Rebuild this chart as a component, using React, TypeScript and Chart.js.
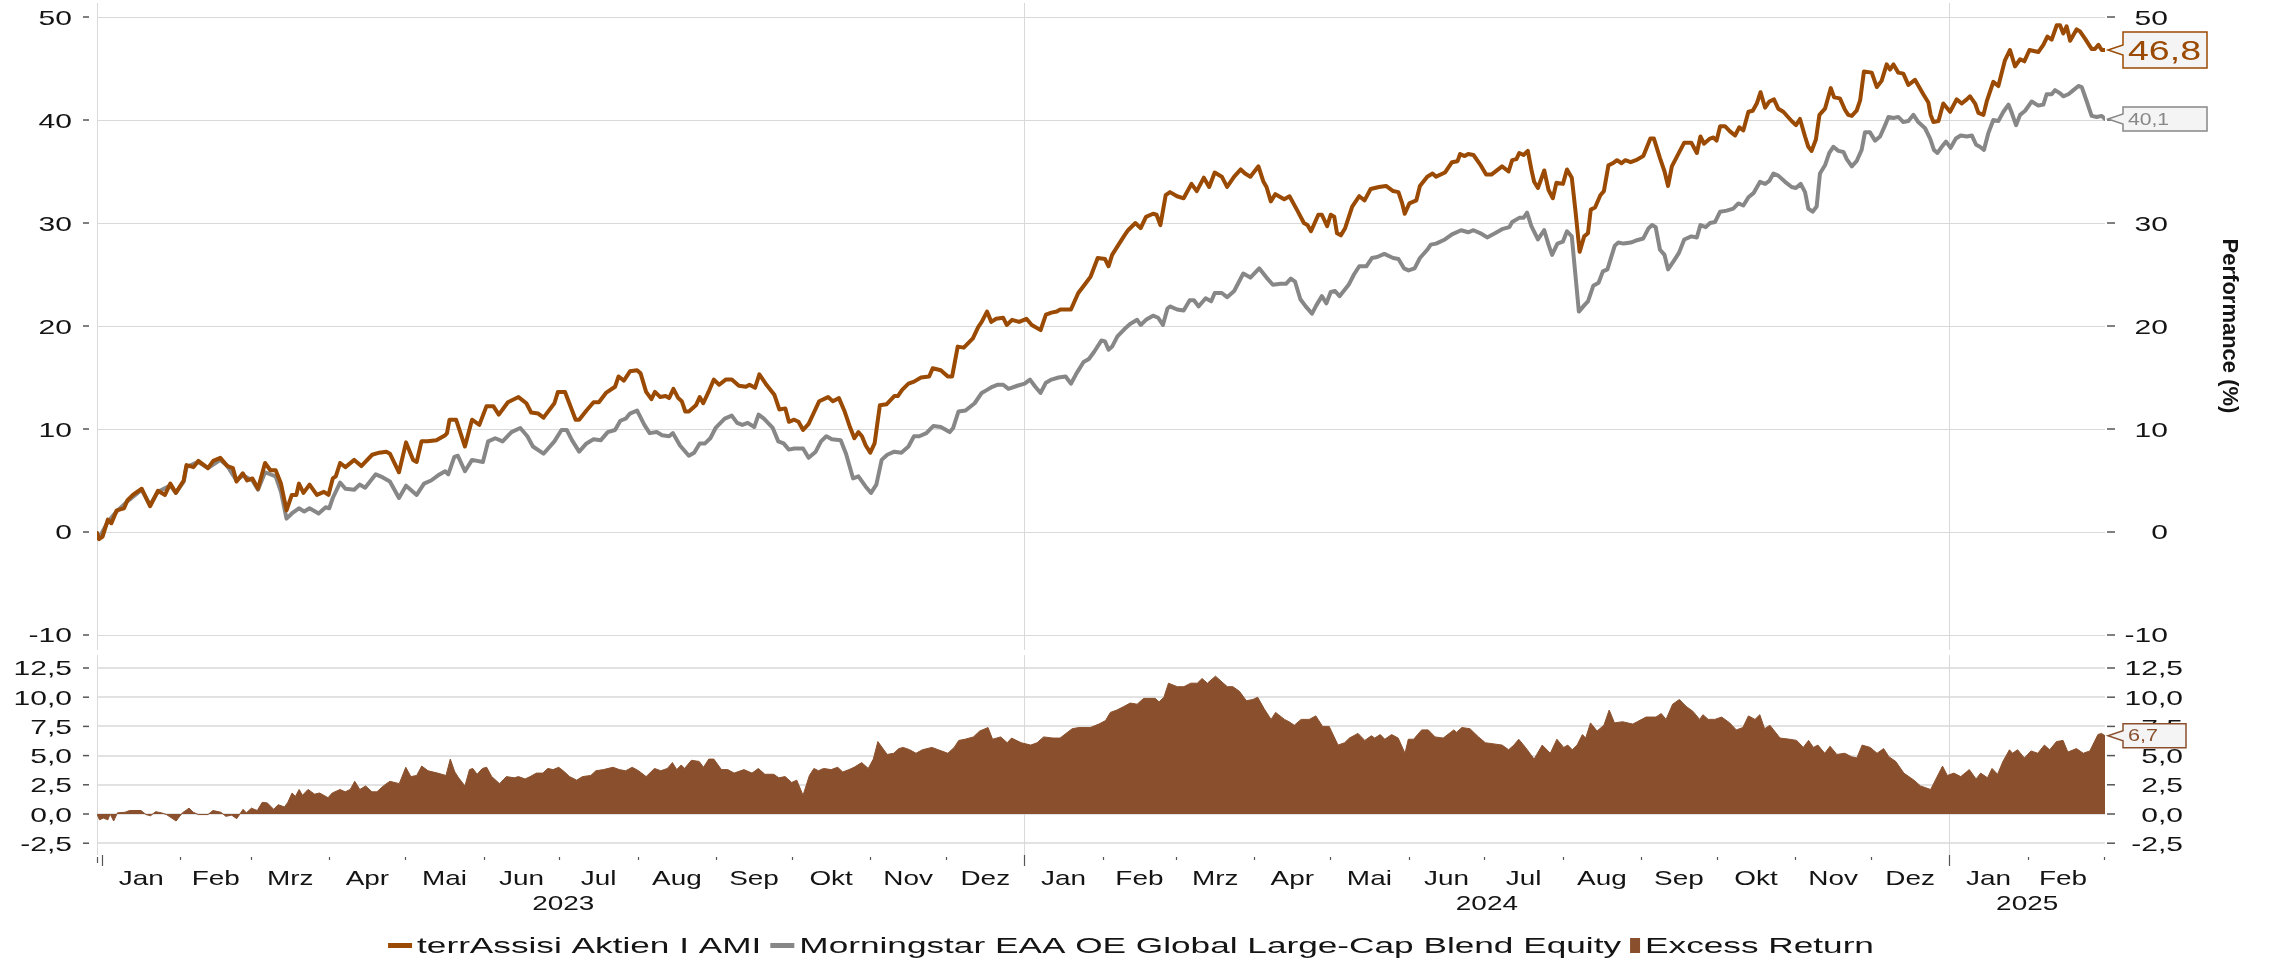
import React, { useEffect, useRef } from 'react';
import { Chart, registerables } from 'chart.js';

Chart.register(...registerables);

// Day 0 = 2022-12-30 (first day shown on the axis)
const START_DATE = '2022-12-30';
const END_DAY = 794.6;

// terrAssisi Aktien I AMI – cumulative performance (%), [day, value]
const fundSeries: number[][] = [
  [0, -0.1], [0.8, -0.7], [2.2, -0.45], [4.3, 1.2], [5.7, 0.85], [7.8, 2.1], [10.7, 2.3], [12.1, 3.1], [14.2, 3.6],
  [17.7, 4.2], [21.0, 2.5], [24.1, 4.0], [26.9, 3.6], [29.0, 4.7], [31.2, 3.8], [34.3, 5.0], [35.4, 6.5], [38.2, 6.3],
  [40.1, 6.9], [43.9, 6.2], [46.0, 6.9], [48.8, 7.2], [51.6, 6.4], [53.8, 6.2], [55.2, 4.9], [57.7, 5.7], [59.4, 5.0],
  [61.5, 5.2], [63.7, 4.2], [66.5, 6.7], [68.6, 6.0], [70.7, 6.0], [72.8, 4.7], [75.0, 2.1], [77.1, 3.6], [78.9, 3.6],
  [79.9, 4.7], [81.7, 3.8], [84.1, 4.6], [87.0, 3.6], [89.8, 3.9], [91.6, 3.6], [93.3, 5.2], [94.5, 5.4], [96.2, 6.7],
  [98.3, 6.3], [101.8, 7.0], [104.6, 6.4], [108.9, 7.5], [111.7, 7.7], [114.5, 7.8], [115.9, 7.6], [119.5, 5.8],
  [122.3, 8.7], [125.1, 7.0], [126.5, 6.8], [128.4, 8.8], [130.8, 8.8], [134.3, 8.9], [137.8, 9.4], [138.5, 9.6],
  [139.5, 10.9], [142.1, 10.9], [145.6, 8.3], [148.4, 10.9], [151.3, 10.4], [154.1, 12.2], [156.9, 12.2], [159.0, 11.4],
  [162.6, 12.6], [166.8, 13.1], [169.9, 12.5], [171.8, 11.6], [174.6, 11.5], [176.7, 11.1], [181.0, 12.5], [182.4, 13.6],
  [185.2, 13.6], [189.4, 10.9], [190.8, 10.9], [193.7, 11.8], [196.5, 12.6], [198.6, 12.6], [201.4, 13.5], [205.0, 14.1],
  [206.4, 15.1], [208.5, 14.7], [210.9, 15.6], [213.7, 15.7], [215.1, 15.4], [217.3, 13.6], [219.4, 12.9], [220.8, 13.6],
  [222.9, 13.1], [225.0, 13.2], [226.4, 13.0], [228.1, 13.9], [230.0, 13.0], [231.4, 12.7], [232.8, 11.7], [234.2, 11.7],
  [237.0, 12.3], [238.5, 13.1], [239.9, 12.5], [242.0, 13.6], [244.1, 14.8], [246.2, 14.3], [248.8, 14.8], [251.2, 14.8],
  [254.0, 14.2], [256.8, 14.1], [258.2, 14.3], [260.4, 14.0], [262.1, 15.3], [264.6, 14.4], [268.1, 13.3], [270.0, 11.9],
  [272.4, 12.0], [273.8, 10.7], [275.9, 10.9], [277.6, 10.7], [279.4, 9.9], [281.6, 10.5], [283.7, 11.6], [285.8, 12.7],
  [289.3, 13.1], [291.2, 12.7], [293.6, 13.0], [295.7, 11.8], [297.8, 10.3], [299.7, 9.1], [301.3, 9.7], [302.7, 9.3],
  [304.2, 8.4], [306.0, 7.7], [307.7, 8.6], [309.8, 12.3], [312.4, 12.4], [315.5, 13.2], [316.9, 13.2], [318.6, 13.8],
  [321.1, 14.4], [323.3, 14.6], [326.1, 15.0], [329.3, 15.1], [330.7, 15.9], [333.9, 15.7], [336.7, 15.1], [338.4, 15.1],
  [340.6, 18.0], [343.0, 17.9], [346.6, 18.8], [348.7, 19.9], [350.1, 20.4], [352.2, 21.4], [353.9, 20.4], [355.8, 20.7],
  [358.6, 20.8], [360.0, 20.1], [362.1, 20.6], [364.9, 20.4], [367.8, 20.7], [369.9, 20.1], [373.4, 19.6], [375.5, 21.1],
  [377.7, 21.3], [379.8, 21.4], [381.2, 21.6], [385.4, 21.6], [388.3, 23.2], [391.1, 24.1], [393.2, 24.8], [396.0, 26.6],
  [398.9, 26.5], [400.3, 25.8], [401.7, 26.9], [404.5, 28.0], [406.6, 28.8], [408.0, 29.3], [410.9, 30.0], [413.0, 29.5],
  [415.1, 30.6], [417.9, 30.9], [419.3, 30.8], [420.8, 29.8], [422.9, 32.7], [424.6, 33.0], [427.4, 32.6], [430.0, 32.4],
  [433.1, 33.8], [435.2, 33.1], [438.0, 34.4], [440.1, 33.5], [442.3, 34.9], [445.1, 34.5], [447.2, 33.5], [450.0, 34.5],
  [452.6, 35.2], [454.3, 34.8], [456.4, 34.5], [459.6, 35.5], [461.6, 34.0], [462.8, 33.5], [464.5, 32.1], [466.3, 32.8],
  [469.8, 32.3], [471.9, 32.6], [474.8, 31.3], [477.6, 30.0], [479.0, 29.8], [480.4, 29.2], [483.3, 30.8], [484.7, 30.8],
  [486.8, 29.7], [488.2, 30.8], [489.6, 30.6], [490.7, 29.0], [492.2, 28.8], [493.9, 29.5], [496.7, 31.6], [499.5, 32.6],
  [501.6, 32.2], [504.0, 33.3], [507.3, 33.5], [510.1, 33.6], [512.9, 33.1], [515.0, 33.0], [516.5, 31.9], [517.5, 30.9],
  [519.3, 31.9], [522.1, 32.2], [523.5, 33.6], [526.4, 34.5], [528.5, 34.8], [529.9, 34.5], [533.4, 34.9], [536.2, 35.9],
  [538.4, 36.0], [539.4, 36.7], [541.2, 36.5], [542.6, 36.7], [544.7, 36.6], [547.3, 35.7], [549.7, 34.7], [551.8, 34.7],
  [556.0, 35.5], [558.6, 35.0], [560.0, 36.1], [561.7, 36.2], [562.8, 36.8], [564.5, 36.6], [566.2, 37.0], [567.6, 35.2],
  [568.7, 34.0], [570.2, 33.4], [572.7, 35.1], [574.4, 33.2], [576.1, 32.4], [577.5, 33.9], [580.1, 33.8], [581.7, 35.2],
  [583.6, 34.4], [585.0, 31.3], [586.7, 27.2], [588.5, 28.7], [590.0, 29.0], [591.1, 31.3], [592.8, 31.5], [594.9, 32.7],
  [596.3, 33.1], [598.1, 35.6], [599.8, 35.8], [601.5, 36.1], [603.3, 35.8], [604.8, 36.1], [606.9, 35.9], [609.0, 36.1],
  [611.9, 36.5], [614.7, 38.2], [616.1, 38.2], [618.5, 36.3], [620.3, 35.0], [621.7, 33.6], [623.2, 35.5], [625.3, 36.5],
  [628.1, 37.8], [630.9, 37.8], [633.1, 36.8], [634.5, 38.4], [635.9, 37.7], [638.3, 38.2], [639.6, 38.3], [640.9, 38.0],
  [642.3, 39.4], [644.2, 39.4], [646.2, 38.9], [648.2, 38.5], [649.9, 39.3], [651.5, 39.0], [653.5, 40.8], [655.2, 40.9],
  [656.8, 41.6], [658.3, 42.7], [660.1, 41.2], [661.8, 41.8], [663.6, 42.0], [665.3, 41.1], [667.3, 40.8], [670.6, 39.9],
  [672.3, 39.5], [673.9, 40.1], [675.9, 38.4], [677.2, 37.4], [678.5, 37.0], [680.2, 38.1], [681.6, 40.5], [683.8, 41.1],
  [686.1, 43.1], [687.4, 42.2], [689.7, 42.1], [691.7, 41.0], [693.0, 40.5], [694.4, 40.4], [696.3, 40.9], [697.7, 41.9],
  [699.2, 44.7], [702.3, 44.6], [704.3, 43.2], [706.2, 43.8], [708.2, 45.4], [709.5, 44.9], [710.9, 45.4], [712.8, 44.6],
  [714.8, 44.5], [716.8, 43.4], [719.4, 43.9], [722.7, 42.5], [724.7, 41.7], [725.6, 40.5], [726.7, 39.8], [728.7, 39.9],
  [730.6, 41.6], [733.3, 40.8], [735.9, 42.0], [737.9, 41.6], [739.9, 42.0], [741.2, 42.3], [743.2, 41.6], [744.5, 40.7],
  [746.5, 40.5], [747.8, 41.8], [750.4, 43.7], [752.4, 43.3], [755.0, 45.8], [757.0, 46.8], [759.0, 45.2], [761.0, 45.9],
  [762.7, 45.7], [764.7, 46.8], [768.2, 46.6], [770.2, 47.3], [771.8, 48.1], [773.5, 47.8], [775.5, 49.2], [776.8, 49.2],
  [778.1, 48.4], [779.4, 49.1], [780.8, 47.7], [783.4, 48.8], [784.7, 48.6], [786.7, 47.9], [789.3, 46.9], [790.6, 46.9],
  [792.0, 47.3], [793.3, 46.8], [794.6, 46.8],
];

// Morningstar EAA OE Global Large-Cap Blend Equity – cumulative performance (%), [day, value]
const benchSeries: number[][] = [
  [0, -0.1], [0.8, -0.6], [4.3, 1.0], [7.8, 2.0], [12.1, 3.0], [17.7, 4.1], [21.0, 2.6], [24.1, 3.9], [29.0, 4.5],
  [31.2, 3.8], [34.3, 4.9], [35.4, 6.3], [40.1, 6.8], [43.9, 6.2], [48.8, 7.0], [51.6, 6.4], [55.2, 5.0], [57.7, 5.5],
  [61.5, 5.0], [63.7, 4.1], [66.5, 5.8], [70.7, 5.4], [72.8, 3.9], [75.0, 1.3], [77.1, 1.8], [79.9, 2.3], [82.0, 2.0],
  [84.1, 2.3], [87.7, 1.8], [90.5, 2.4], [91.9, 2.3], [93.3, 3.3], [96.2, 4.8], [98.3, 4.2], [101.8, 4.1], [103.9, 4.6],
  [106.1, 4.3], [110.3, 5.6], [113.1, 5.3], [115.9, 4.9], [119.5, 3.3], [122.3, 4.5], [126.5, 3.6], [129.4, 4.7],
  [132.2, 5.0], [135.0, 5.5], [137.8, 5.9], [139.0, 5.6], [141.4, 7.3], [142.8, 7.4], [145.6, 5.9], [148.4, 7.0],
  [152.7, 6.8], [154.8, 8.8], [157.6, 9.1], [160.5, 8.8], [164.0, 9.7], [167.5, 10.1], [170.3, 9.3], [172.5, 8.3],
  [176.7, 7.6], [181.0, 8.8], [183.8, 9.9], [185.9, 9.9], [188.0, 8.9], [190.8, 7.8], [193.7, 8.6], [196.5, 9.0],
  [199.3, 8.9], [202.1, 9.7], [205.0, 9.9], [207.1, 10.8], [209.2, 11.0], [210.9, 11.5], [213.7, 11.8], [216.6, 10.4],
  [218.7, 9.6], [221.5, 9.7], [223.6, 9.4], [226.4, 9.3], [227.9, 9.6], [230.7, 8.4], [234.2, 7.4], [236.3, 7.7],
  [238.5, 8.6], [240.6, 8.6], [242.7, 9.1], [244.8, 10.1], [248.4, 11.0], [251.2, 11.3], [253.3, 10.6], [255.4, 10.4],
  [257.5, 10.6], [260.1, 10.2], [261.8, 11.4], [263.9, 11.0], [267.4, 10.1], [269.6, 8.8], [271.7, 8.6], [273.8, 8.0],
  [275.9, 8.1], [279.4, 8.1], [281.6, 7.2], [284.4, 7.8], [286.5, 8.8], [288.6, 9.3], [290.8, 9.0], [294.3, 8.9],
  [296.4, 7.6], [299.2, 5.2], [301.3, 5.4], [304.2, 4.4], [306.3, 3.8], [308.4, 4.6], [310.5, 7.0], [312.7, 7.5],
  [315.5, 7.8], [318.3, 7.7], [321.1, 8.3], [323.3, 9.3], [325.4, 9.3], [328.2, 9.6], [331.0, 10.3], [333.9, 10.2],
  [337.4, 9.7], [338.8, 10.1], [340.9, 11.7], [343.7, 11.8], [347.3, 12.5], [350.1, 13.5], [352.2, 13.8], [354.3, 14.1],
  [356.5, 14.3], [358.6, 14.3], [360.7, 13.9], [364.2, 14.2], [367.1, 14.4], [369.2, 14.8], [371.3, 14.1], [373.4, 13.5],
  [375.5, 14.5], [377.7, 14.8], [380.5, 15.0], [383.3, 15.1], [385.4, 14.4], [387.6, 15.4], [390.4, 16.5], [392.5, 16.8],
  [394.6, 17.5], [397.5, 18.6], [398.9, 18.5], [400.3, 17.7], [401.7, 18.0], [403.8, 19.0], [406.6, 19.7], [408.8, 20.2],
  [411.6, 20.6], [413.0, 20.1], [415.1, 20.6], [417.9, 21.0], [419.9, 20.8], [421.8, 20.1], [423.6, 21.7], [424.6, 21.9],
  [427.4, 21.6], [430.0, 21.5], [432.4, 22.5], [434.1, 22.5], [435.9, 21.9], [438.7, 22.7], [440.9, 22.4], [442.3, 23.2],
  [445.1, 23.2], [447.2, 22.8], [450.0, 23.4], [453.6, 25.1], [456.4, 24.7], [459.9, 25.6], [462.8, 24.7], [465.3, 24.0],
  [468.4, 24.1], [470.5, 24.1], [472.4, 24.6], [474.1, 24.3], [476.2, 22.6], [478.3, 21.9], [480.8, 21.2], [482.5, 22.0],
  [484.7, 22.9], [486.5, 22.2], [488.2, 23.3], [489.9, 23.4], [491.7, 22.9], [495.3, 24.0], [497.4, 25.0], [499.5, 25.8],
  [502.3, 25.8], [504.5, 26.6], [506.6, 26.7], [509.4, 27.0], [512.9, 26.6], [515.0, 26.5], [517.2, 25.6], [519.0, 25.4],
  [521.4, 25.6], [523.5, 26.6], [526.4, 27.4], [527.8, 27.9], [529.9, 28.0], [533.4, 28.4], [536.2, 28.9], [539.8, 29.3],
  [542.6, 29.1], [544.7, 29.3], [547.5, 29.0], [550.1, 28.6], [553.2, 29.0], [556.0, 29.4], [558.9, 29.6], [560.0, 30.1],
  [562.8, 30.5], [564.5, 30.5], [565.9, 31.0], [567.6, 29.7], [570.2, 28.4], [572.7, 29.3], [574.4, 27.9], [575.8, 26.9],
  [577.9, 28.0], [580.1, 28.2], [581.7, 29.2], [583.6, 28.7], [586.4, 21.4], [588.5, 22.0], [590.0, 22.4], [592.1, 23.9],
  [594.2, 24.2], [595.9, 25.3], [597.7, 25.5], [600.6, 27.8], [602.0, 28.1], [604.1, 28.0], [606.9, 28.1], [609.0, 28.3],
  [611.9, 28.5], [614.0, 29.5], [615.4, 29.8], [616.8, 29.6], [618.5, 27.4], [620.3, 26.9], [621.7, 25.5], [623.9, 26.3],
  [626.0, 27.1], [628.1, 28.4], [630.9, 28.7], [633.1, 28.6], [634.5, 29.8], [636.6, 29.6], [638.3, 30.0], [640.3, 30.1],
  [642.3, 31.1], [644.9, 31.2], [647.5, 31.4], [649.5, 31.9], [651.5, 31.7], [653.5, 32.5], [655.5, 32.9], [658.1, 34.0],
  [660.1, 33.8], [661.8, 34.1], [663.4, 34.8], [665.3, 34.6], [668.0, 34.0], [670.6, 33.5], [672.3, 33.4], [674.2, 33.8],
  [675.9, 33.0], [677.2, 31.4], [678.9, 31.1], [680.5, 31.6], [681.8, 34.8], [683.8, 35.6], [685.5, 36.8], [687.1, 37.4],
  [689.1, 37.0], [691.1, 36.9], [692.4, 36.2], [694.4, 35.5], [696.3, 36.0], [698.3, 37.1], [699.6, 38.8], [701.6, 38.8],
  [703.6, 38.0], [705.6, 38.4], [707.6, 39.5], [708.9, 40.3], [710.9, 40.2], [712.8, 40.3], [714.8, 39.8], [716.8, 39.9],
  [718.8, 40.5], [720.7, 39.8], [723.4, 39.2], [725.4, 38.2], [726.9, 37.1], [728.3, 36.8], [730.0, 37.4], [731.7, 37.9],
  [733.5, 37.3], [735.6, 38.2], [737.5, 38.5], [739.9, 38.4], [741.9, 38.5], [743.6, 37.6], [745.1, 37.4], [746.7, 37.1],
  [748.4, 38.7], [750.4, 40.0], [752.4, 39.9], [754.4, 40.8], [756.4, 41.5], [757.7, 40.7], [759.4, 39.5], [761.0, 40.5],
  [763.0, 40.9], [765.6, 41.8], [768.2, 41.4], [770.2, 41.5], [771.5, 42.5], [773.5, 42.5], [774.8, 42.9], [776.8, 42.6],
  [778.1, 42.3], [780.1, 42.5], [782.1, 42.9], [784.1, 43.3], [785.4, 43.2], [787.4, 41.8], [789.3, 40.4], [791.3, 40.3],
  [793.3, 40.4], [794.6, 40.1],
];

// Excess Return (%), [day, value]
const excessSeries: number[][] = [
  [0, 0], [1.0, -0.5], [2.5, -0.35], [4.3, -0.5], [5.2, 0.0], [6.6, -0.6], [8.1, 0.1], [11.1, 0.15], [12.9, 0.3],
  [17.4, 0.3], [19.4, -0.05], [21.2, -0.15], [23.2, 0.2], [25.5, 0.1], [27.5, -0.05], [31.3, -0.6], [33.8, 0.1],
  [36.4, 0.5], [38.1, 0.15], [40.1, -0.05], [43.9, -0.05], [45.9, 0.3], [49.0, 0.15], [51.0, -0.2], [53.3, -0.1],
  [55.3, -0.4], [57.8, 0.4], [59.1, 0.1], [61.1, 0.5], [63.4, 0.3], [65.4, 1.0], [67.4, 0.95], [69.9, 0.4], [71.7, 0.8],
  [74.2, 0.6], [75.5, 1.0], [77.2, 1.8], [78.5, 1.5], [80.0, 2.1], [81.3, 1.6], [83.5, 2.1], [86.1, 1.7], [88.1, 1.8],
  [91.4, 1.4], [93.1, 1.8], [96.2, 2.1], [98.2, 1.9], [100.2, 2.1], [102.0, 2.8], [104.0, 2.1], [106.3, 2.4], [108.8, 1.9],
  [110.8, 1.9], [113.3, 2.4], [115.9, 2.8], [119.6, 2.6], [122.2, 4.0], [124.2, 3.2], [126.5, 3.3], [128.5, 4.1],
  [131.0, 3.7], [134.8, 3.5], [138.1, 3.3], [139.8, 4.7], [141.6, 3.6], [143.1, 3.1], [145.6, 2.4], [147.4, 3.8],
  [148.7, 3.9], [150.4, 3.4], [152.5, 3.9], [154.2, 4.0], [156.2, 3.2], [159.3, 2.6], [162.0, 3.2], [165.1, 3.1],
  [166.8, 3.2], [169.4, 3.0], [171.4, 3.2], [173.9, 3.5], [176.4, 3.5], [178.4, 3.9], [180.5, 3.8], [182.7, 4.0],
  [184.5, 3.7], [187.0, 3.2], [189.8, 2.9], [192.1, 3.2], [195.4, 3.3], [197.4, 3.7], [200.4, 3.8], [204.2, 4.0],
  [206.7, 3.8], [209.2, 3.7], [211.8, 4.0], [214.3, 3.7], [217.3, 3.2], [220.6, 3.9], [223.1, 3.7], [225.7, 3.9],
  [227.7, 4.4], [229.4, 3.8], [231.2, 4.2], [232.5, 3.9], [235.2, 4.6], [238.3, 4.5], [240.0, 4.0], [242.1, 4.7],
  [244.1, 4.7], [247.1, 3.8], [249.6, 3.8], [252.1, 3.5], [256.0, 3.8], [259.2, 3.5], [261.7, 3.9], [264.3, 3.4],
  [267.8, 3.4], [269.8, 3.1], [272.3, 3.2], [274.9, 2.7], [276.9, 2.9], [279.4, 1.6], [281.9, 3.3], [283.7, 3.9],
  [285.5, 3.7], [287.5, 3.9], [290.5, 3.8], [293.1, 4.0], [295.1, 3.6], [297.6, 3.8], [299.6, 4.0], [302.6, 4.4],
  [305.2, 3.9], [307.2, 4.7], [309.0, 6.2], [312.7, 5.1], [315.3, 5.2], [317.3, 5.6], [319.0, 5.7], [321.6, 5.5],
  [324.1, 5.2], [326.6, 5.5], [330.4, 5.7], [332.9, 5.5], [336.7, 5.2], [339.2, 5.7], [341.0, 6.3], [343.5, 6.4],
  [346.8, 6.6], [349.3, 7.1], [352.6, 7.4], [354.4, 6.4], [357.6, 6.6], [360.2, 6.1], [361.9, 6.5], [365.7, 6.1],
  [369.5, 5.9], [372.0, 6.1], [374.6, 6.6], [378.3, 6.5], [381.1, 6.5], [385.9, 7.3], [388.5, 7.4], [393.0, 7.4],
  [396.5, 7.7], [399.1, 8.0], [401.0, 8.7], [403.6, 8.9], [406.3, 9.2], [408.9, 9.5], [411.6, 9.4], [414.2, 9.9],
  [418.7, 9.9], [420.3, 9.6], [422.2, 10.0], [424.0, 11.2], [427.5, 10.9], [430.1, 10.9], [432.8, 11.2], [435.4, 11.2],
  [437.3, 11.6], [439.4, 11.2], [442.6, 11.8], [445.2, 11.3], [447.3, 10.9], [449.5, 10.9], [452.1, 10.5], [454.8, 9.7],
  [457.4, 9.8], [459.3, 10.0], [461.9, 9.0], [464.6, 8.1], [466.4, 8.7], [469.9, 8.1], [471.7, 7.9], [473.8, 7.6],
  [476.5, 8.1], [479.7, 8.1], [482.3, 8.4], [485.0, 7.5], [487.6, 7.5], [491.1, 5.9], [493.7, 6.1], [495.6, 6.5],
  [499.0, 6.9], [501.7, 6.3], [504.3, 6.7], [505.6, 6.5], [507.8, 6.8], [509.6, 6.4], [512.3, 6.8], [514.9, 6.5],
  [517.6, 5.2], [518.9, 6.4], [521.0, 6.4], [524.2, 7.2], [526.8, 7.2], [529.5, 6.6], [532.7, 6.5], [536.9, 7.2],
  [538.0, 7.0], [540.1, 7.4], [543.3, 7.3], [546.7, 6.6], [549.4, 6.1], [552.8, 6.0], [556.0, 5.9], [558.6, 5.5],
  [560.7, 5.9], [562.6, 6.4], [565.3, 5.7], [568.7, 4.7], [571.9, 5.9], [575.1, 5.2], [577.7, 6.4], [580.4, 5.7],
  [582.0, 5.9], [583.8, 5.5], [585.7, 5.9], [587.8, 6.8], [589.1, 6.5], [591.0, 7.8], [593.6, 7.1], [596.3, 7.6],
  [598.4, 8.9], [600.5, 7.8], [603.7, 7.9], [607.7, 7.7], [609.5, 7.9], [613.0, 8.3], [616.9, 8.3], [619.0, 8.6],
  [620.9, 8.1], [623.5, 9.4], [626.2, 9.8], [628.9, 9.2], [631.5, 8.8], [634.2, 8.1], [635.5, 8.5], [637.6, 8.1],
  [640.2, 8.1], [642.9, 8.3], [646.1, 7.8], [648.7, 7.2], [651.3, 7.4], [653.5, 8.4], [656.1, 8.1], [658.0, 8.5],
  [659.9, 7.3], [662.0, 7.6], [666.0, 6.5], [669.9, 6.4], [672.6, 6.3], [675.2, 5.7], [677.3, 6.3], [679.2, 5.7],
  [681.0, 5.9], [683.7, 5.2], [685.8, 5.8], [688.5, 5.1], [691.6, 5.2], [694.3, 4.9], [696.4, 4.8], [698.5, 5.9],
  [701.7, 5.7], [704.4, 5.2], [707.0, 5.6], [709.1, 4.9], [711.8, 4.5], [715.0, 3.5], [719.0, 2.9], [721.6, 2.4],
  [725.6, 2.1], [730.3, 4.1], [732.2, 3.3], [734.8, 3.5], [737.5, 3.2], [740.9, 3.8], [743.6, 3.0], [745.4, 3.5],
  [748.1, 3.1], [749.9, 3.9], [752.1, 3.4], [754.2, 4.5], [756.8, 5.5], [758.0, 5.2], [760.0, 5.5], [762.7, 4.8],
  [765.3, 5.4], [768.0, 5.2], [770.6, 5.9], [772.7, 5.5], [775.4, 6.2], [778.0, 6.3], [779.9, 5.3], [783.3, 5.6],
  [786.0, 5.2], [788.6, 5.4], [791.8, 6.8], [793.2, 6.9], [794.6, 6.7],
];

const perfTicks = [-10, 0, 10, 20, 30, 40, 50];
const excessTicks = [-2.5, 0, 2.5, 5, 7.5, 10, 12.5];
const monthNames = ['Jan', 'Feb', 'Mrz', 'Apr', 'Mai', 'Jun', 'Jul', 'Aug', 'Sep', 'Okt', 'Nov', 'Dez'];
const years = [2023, 2024, 2025];
const seriesNames = ['terrAssisi Aktien I AMI', 'Morningstar EAA OE Global Large-Cap Blend Equity', 'Excess Return'];
const axisTitle = 'Performance (%)';

const ORANGE = '#9A4A02';
const GRAY = '#878787';
const BROWN = '#8A502D';
const GRID = '#d9d9d9';
const TEXT = '#141414';
const FONT = '"Liberation Sans", Arial, Helvetica, sans-serif';

const TOP_PANEL_FLOOR = -11.45;
const BOTTOM_PANEL_CEIL = 13.6;

function drawText(
  ctx: CanvasRenderingContext2D, s: string, x: number, y: number,
  size: number, sx: number, align: CanvasTextAlign, color: string, weight = '',
) {
  ctx.save();
  ctx.font = `${weight} ${size}px ${FONT}`;
  ctx.fillStyle = color;
  ctx.textAlign = align;
  ctx.textBaseline = 'alphabetic';
  ctx.translate(x, y);
  ctx.scale(sx, 1);
  ctx.fillText(s, 0, 0);
  ctx.restore();
}

function dayOf(y: number, m: number) {
  const start = new Date(START_DATE + 'T00:00:00Z').getTime();
  return (Date.UTC(y, m, 1) - start) / 86400000;
}

const fmt1 = (v: number) => v.toFixed(1).replace('.', ',');

const decorPlugin = {
  id: 'decor',
  beforeDatasetsDraw(chart: any) {
    const { ctx, chartArea: ca, scales } = chart;
    const xs = scales.x, yT = scales.yTop, yB = scales.yBot;
    const topBottom = yT.getPixelForValue(TOP_PANEL_FLOOR);
    const botTop = yB.getPixelForValue(BOTTOM_PANEL_CEIL);
    ctx.save();
    ctx.strokeStyle = GRID;
    ctx.lineWidth = 1;
    for (const v of perfTicks) {
      const y = Math.round(yT.getPixelForValue(v)) + 0.5;
      ctx.beginPath(); ctx.moveTo(ca.left, y); ctx.lineTo(ca.right, y); ctx.stroke();
    }
    ctx.lineWidth = 1.6;
    for (const v of excessTicks) {
      const y = Math.round(yB.getPixelForValue(v));
      ctx.beginPath(); ctx.moveTo(ca.left, y); ctx.lineTo(ca.right, y); ctx.stroke();
    }
    ctx.lineWidth = 1;
    const vlines = [0, dayOf(2024, 0), dayOf(2025, 0)];
    for (const d of vlines) {
      const x = Math.round(xs.getPixelForValue(d)) + 0.5;
      ctx.beginPath(); ctx.moveTo(x, ca.top); ctx.lineTo(x, topBottom); ctx.stroke();
      ctx.beginPath(); ctx.moveTo(x, botTop); ctx.lineTo(x, ca.bottom); ctx.stroke();
    }
    ctx.restore();
  },
  afterDatasetsDraw(chart: any) {
    const { ctx, chartArea: ca, scales } = chart;
    const xs = scales.x, yT = scales.yTop, yB = scales.yBot;
    ctx.save();

    // y tick marks + labels (both sides)
    ctx.strokeStyle = '#555';
    ctx.lineWidth = 1.5;
    const tickMark = (y: number) => {
      ctx.beginPath(); ctx.moveTo(ca.left - 14, y); ctx.lineTo(ca.left - 8, y); ctx.stroke();
      ctx.beginPath(); ctx.moveTo(ca.right + 2, y); ctx.lineTo(ca.right + 10, y); ctx.stroke();
    };
    for (const v of perfTicks) {
      const y = yT.getPixelForValue(v);
      tickMark(y);
      drawText(ctx, String(v), ca.left - 25, y + 7.5, 21, 1.43, 'right', TEXT);
      drawText(ctx, String(v), ca.right + 63, y + 7.5, 21, 1.43, 'right', TEXT);
    }
    for (const v of excessTicks) {
      const y = yB.getPixelForValue(v);
      tickMark(y);
      drawText(ctx, fmt1(v), ca.left - 25, y + 7.5, 21, 1.43, 'right', TEXT);
      drawText(ctx, fmt1(v), ca.right + 78, y + 7.5, 21, 1.43, 'right', TEXT);
    }

    // x axis: month ticks, month labels, year labels
    ctx.strokeStyle = '#555';
    const tickY = ca.bottom + 2;
    for (const y of [2022, ...years]) {
      for (let m = 0; m < 12; m++) {
        const d = dayOf(y, m);
        if (d <= 0 || d >= END_DAY - 4) continue;
        const x = Math.round(xs.getPixelForValue(d)) + 0.5;
        const long = m === 0;
        ctx.lineWidth = 1.2;
        ctx.beginPath(); ctx.moveTo(x, long ? ca.bottom : tickY); ctx.lineTo(x, long ? ca.bottom + 11 : tickY + 3); ctx.stroke();
        void x;
      }
    }
    // start/end ticks
    {
      const x0 = Math.round(xs.getPixelForValue(0)) + 0.5;
      ctx.beginPath(); ctx.moveTo(x0, tickY); ctx.lineTo(x0, tickY + 6); ctx.stroke();
      const x1 = Math.round(xs.getPixelForValue(END_DAY)) - 0.5;
      ctx.beginPath(); ctx.moveTo(x1, tickY); ctx.lineTo(x1, tickY + 3); ctx.stroke();
    }
    for (const y of years) {
      for (let m = 0; m < 12; m++) {
        const s = Math.max(0, dayOf(y, m));
        const e = Math.min(END_DAY, m === 11 ? dayOf(y + 1, 0) : dayOf(y, m + 1));
        if (e - s < 12) continue;
        const cx = (xs.getPixelForValue(s) + xs.getPixelForValue(e)) / 2;
        drawText(ctx, monthNames[m], cx, 885, 21, 1.33, 'center', TEXT);
      }
      const ys = Math.max(0, dayOf(y, 0));
      const ye = Math.min(END_DAY, dayOf(y + 1, 0));
      const cx = (xs.getPixelForValue(ys) + xs.getPixelForValue(ye)) / 2;
      drawText(ctx, String(y), cx, 910, 21, 1.33, 'center', TEXT);
    }

    // right axis title
    ctx.save();
    ctx.translate(2229, 326);
    ctx.rotate(Math.PI / 2);
    ctx.font = `bold 22px ${FONT}`;
    ctx.fillStyle = TEXT;
    ctx.textAlign = 'center';
    ctx.textBaseline = 'middle';
    ctx.fillText(axisTitle, 0, 0);
    ctx.restore();

    // legend
    const LS = 1.6;
    ctx.font = `22px ${FONT}`;
    const widths = seriesNames.map((n) => ctx.measureText(n).width * LS);
    const swatchW = [24, 24, 10];
    const gap = 5;
    const itemGap = 9;
    let total = 0;
    seriesNames.forEach((_, i) => { total += swatchW[i] + gap + widths[i] + (i < 2 ? itemGap : 0); });
    let lx = 1131 - total / 2;
    const legendBase = 953;
    const colors = [ORANGE, GRAY, BROWN];
    seriesNames.forEach((n, i) => {
      ctx.fillStyle = colors[i];
      if (i < 2) ctx.fillRect(lx, 943, swatchW[i], 5);
      else ctx.fillRect(lx, 938, swatchW[i], 15);
      lx += swatchW[i] + gap;
      drawText(ctx, n, lx, legendBase, 22, LS, 'left', TEXT);
      lx += widths[i] + itemGap;
    });

    // value callouts
    const callout = (val: number, yPix: number, w: number, h: number, border: string, textColor: string, size: number, sx: number) => {
      const tipX = ca.right + 3;
      const bx = ca.right + 18;
      const top = yPix - h / 2;
      ctx.save();
      ctx.beginPath();
      ctx.moveTo(bx, top);
      ctx.lineTo(bx + w, top);
      ctx.lineTo(bx + w, top + h);
      ctx.lineTo(bx, top + h);
      ctx.lineTo(bx, yPix + 5);
      ctx.lineTo(tipX, yPix);
      ctx.lineTo(bx, yPix - 5);
      ctx.closePath();
      ctx.fillStyle = '#f4f4f4';
      ctx.fill();
      ctx.strokeStyle = border;
      ctx.lineWidth = 1.5;
      ctx.stroke();
      ctx.restore();
      drawText(ctx, fmt1(val), bx + 5, yPix + size * 0.358, size, sx, 'left', textColor);
    };
    const lastF = fundSeries[fundSeries.length - 1][1];
    const lastB = benchSeries[benchSeries.length - 1][1];
    const lastE = excessSeries[excessSeries.length - 1][1];
    callout(lastF, yT.getPixelForValue(lastF), 84, 36, ORANGE, ORANGE, 28, 1.34);
    callout(lastB, yT.getPixelForValue(lastB), 84, 24, GRAY, GRAY, 16, 1.32);
    callout(lastE, yB.getPixelForValue(lastE), 63, 24, BROWN, BROWN, 16, 1.35);

    ctx.restore();
  },
};

export default function App() {
  const ref = useRef<HTMLCanvasElement>(null);
  useEffect(() => {
    document.body.style.margin = '0';
    const canvas = ref.current;
    if (!canvas) return;
    const toXY = (s: number[][]) => s.map(([x, y]) => ({ x, y }));
    const chart = new Chart(canvas, {
      type: 'line',
      data: {
        datasets: [
          {
            label: seriesNames[0], data: toXY(fundSeries), yAxisID: 'yTop',
            borderColor: ORANGE, borderWidth: 4, pointRadius: 0, fill: false, order: 0, tension: 0,
            borderJoinStyle: 'round', borderCapStyle: 'round',
          },
          {
            label: seriesNames[1], data: toXY(benchSeries), yAxisID: 'yTop',
            borderColor: GRAY, borderWidth: 4, pointRadius: 0, fill: false, order: 1, tension: 0,
            borderJoinStyle: 'round', borderCapStyle: 'round',
          },
          {
            label: seriesNames[2], data: toXY(excessSeries), yAxisID: 'yBot',
            borderColor: BROWN, backgroundColor: BROWN, borderWidth: 1, pointRadius: 0,
            fill: 'origin', order: 2, tension: 0,
          },
        ],
      } as any,
      options: {
        animation: false,
        responsive: false,
        devicePixelRatio: 1,
        events: [],
        layout: { padding: { left: 97, right: 167, top: 3, bottom: 106 } },
        scales: {
          x: { type: 'linear', min: 0, max: END_DAY, display: false },
          yTop: { type: 'linear', min: -31.36, max: 51.36, display: false },
          yBot: { type: 'linear', min: -3.51, max: 69.43, display: false },
        },
        plugins: { legend: { display: false }, tooltip: { enabled: false } },
      } as any,
      plugins: [decorPlugin],
    });
    return () => chart.destroy();
  }, []);
  return <canvas ref={ref} width={2272} height={961} style={{ display: 'block' }} />;
}
